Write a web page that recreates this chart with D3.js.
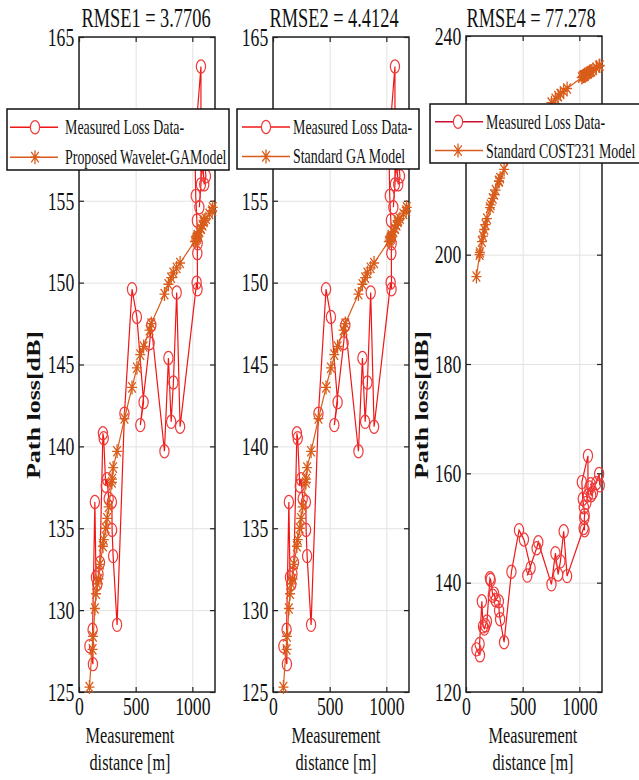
<!DOCTYPE html>
<html>
<head>
<meta charset="utf-8">
<script src="https://cdn.jsdelivr.net/npm/d3@7"></script>
<style>
  body { margin: 0; background: #fff; }
  svg { display: block; }
</style>
</head>
<body>
<div id="chart"></div>
<script>
// measured distance [m] in recorded order
const distance = [92, 123, 120, 140, 150, 162, 172, 185, 211, 218, 236, 248, 262, 290, 292, 301, 336,
  401, 468, 511, 570, 541, 623, 638, 754, 789, 813, 833, 862, 892,
  1038, 1046, 1044, 1047, 1040, 1030, 1022, 1076, 1076, 1062, 1090, 1105, 1120, 1100, 1150, 1175, 1180];

const measuredLoss = [127.8, 126.7, 128.8, 136.6, 132.0, 131.6, 132.2, 132.9, 140.8, 140.5, 137.6, 138.0, 136.8, 136.6, 134.9, 133.3, 129.1,
  142.0, 149.6, 147.9, 142.7, 141.3, 146.3, 147.4, 139.7, 145.4, 141.5, 143.9, 149.4, 141.2,
  150.0, 149.6, 151.8, 152.4, 153.8, 155.3, 158.4, 163.2, 156.0, 154.6, 157.4, 156.0, 156.5, 158.0, 158.2, 159.9, 157.8];

const waveletGA = [125.3, 128.4, 127.6, 130.1, 131.0, 131.6, 131.9, 132.8, 133.9, 134.3, 135.0, 135.6, 136.3, 137.8, 138.0, 138.7, 139.7,
  141.7, 143.6, 144.8, 146.1, 145.6, 147.1, 147.5, 149.3, 149.9, 150.3, 150.6, 150.9, 151.2,
  152.7, 152.8, 152.8, 152.9, 152.7, 152.6, 152.5, 153.3, 153.3, 153.1, 153.5, 153.8, 153.9, 153.7, 154.2, 154.4, 154.6];

const standardGA = [125.3, 128.4, 127.6, 130.1, 131.0, 131.6, 131.9, 132.8, 133.9, 134.3, 135.0, 135.6, 136.3, 137.8, 138.0, 138.7, 139.7,
  141.7, 143.6, 144.8, 146.1, 145.6, 147.1, 147.5, 149.3, 149.9, 150.3, 150.6, 150.9, 151.2,
  152.7, 152.8, 152.8, 152.9, 152.7, 152.6, 152.5, 153.3, 153.3, 153.1, 153.5, 153.8, 153.9, 153.7, 154.2, 154.4, 154.6];

const cost231 = [196.0, 200.4, 200.0, 202.4, 203.4, 204.6, 205.5, 206.6, 208.6, 209.1, 210.3, 211.0, 211.8, 213.4, 213.5, 214.0, 215.6,
  218.3, 220.6, 221.9, 223.6, 222.8, 225.0, 225.3, 227.8, 228.5, 229.0, 229.4, 229.9, 230.4,
  232.7, 232.8, 232.8, 232.8, 232.7, 232.6, 232.4, 233.2, 233.2, 233.0, 233.4, 233.6, 233.8, 233.5, 234.2, 234.5, 234.6];

const titles = ["RMSE1 = 3.7706", "RMSE2 = 4.4124", "RMSE4 = 77.278"];
const measuredName = "Measured Loss Data-";
const modelNames = ["Proposed Wavelet-GAModel", "Standard GA Model", "Standard COST231 Model"];
const xTicks = [0, 500, 1000];
const yTicksGA = [125, 130, 135, 140, 145, 150, 155, 160, 165];
const yTicksCost = [120, 140, 160, 180, 200, 220, 240];

const W = 639, H = 780;
const squeeze = 0.68;   // the figure is squashed sideways
const serif = "'Liberation Serif', 'Times New Roman', serif";
const red = "#f01616", orange = "#d95c1a";

const panels = [
  { left: 79, right: 215, top: 37, bottom: 692, yDomain: [125, 165], yTicks: yTicksGA, model: waveletGA,
    titleX: 146, xLabelX: 130, yLabelX: 33, legend: { x: 7, y: 109, w: 222, h: 61, line: 3, mark: 28, text: 58 } },
  { left: 273, right: 409, top: 37, bottom: 692, yDomain: [125, 165], yTicks: yTicksGA, model: standardGA,
    titleX: 334, xLabelX: 336, yLabelX: null, legend: { x: 237, y: 109, w: 182, h: 60, line: 5, mark: 29, text: 56 } },
  { left: 466, right: 602, top: 36, bottom: 692, yDomain: [120, 240], yTicks: yTicksCost, model: cost231,
    titleX: 531, xLabelX: 533, yLabelX: 421, legend: { x: 430, y: 104, w: 220, h: 59, line: 5, mark: 28, text: 56 } }
];

const svg = d3.select("#chart").append("svg")
  .attr("width", W)
  .attr("height", H)
  .style("background", "#fff");

function label(g, x, y, str, size, anchor, weight) {
  return g.append("text")
    .attr("transform", "translate(" + x + "," + y + ") scale(" + squeeze + ",1)")
    .attr("text-anchor", anchor || "middle")
    .style("font-family", serif)
    .style("font-size", size + "px")
    .style("font-weight", weight || "normal")
    .style("fill", "#111")
    .text(str);
}

function asterisk(cx, cy, s) {
  const a = 5 * s, b = 7 * s, c = 3.8 * s, e = 5.2 * s;
  return "M" + (cx - a) + "," + cy + "L" + (cx + a) + "," + cy +
    "M" + cx + "," + (cy - b) + "L" + cx + "," + (cy + b) +
    "M" + (cx - c) + "," + (cy - e) + "L" + (cx + c) + "," + (cy + e) +
    "M" + (cx - c) + "," + (cy + e) + "L" + (cx + c) + "," + (cy - e);
}

panels.forEach(function(p, i) {
  const g = svg.append("g");
  const x = d3.scaleLinear().domain([0, 1200]).range([p.left, p.right]);
  const y = d3.scaleLinear().domain(p.yDomain).range([p.bottom, p.top]);
  const pw = p.right - p.left, ph = p.bottom - p.top;
  const L = p.legend;

  // grid
  g.append("g")
    .attr("transform", "translate(0," + p.bottom + ")")
    .call(d3.axisBottom(x).tickValues(xTicks).tickSize(-ph).tickFormat(""))
    .call(a => a.select(".domain").remove())
    .call(a => a.selectAll("line").attr("stroke", "#e2e2e2"));
  g.append("g")
    .attr("transform", "translate(" + p.left + ",0)")
    .call(d3.axisLeft(y).tickValues(p.yTicks).tickSize(-pw).tickFormat(""))
    .call(a => a.select(".domain").remove())
    .call(a => a.selectAll("line").attr("stroke", "#e2e2e2"));

  // tick marks on all four sides, pointing in
  [[d3.axisBottom(x).tickValues(xTicks), "translate(0," + p.bottom + ")"],
   [d3.axisTop(x).tickValues(xTicks), "translate(0," + p.top + ")"],
   [d3.axisLeft(y).tickValues(p.yTicks), "translate(" + p.left + ",0)"],
   [d3.axisRight(y).tickValues(p.yTicks), "translate(" + p.right + ",0)"]].forEach(function(ax) {
    g.append("g")
      .attr("transform", ax[1])
      .call(ax[0].tickSizeInner(-5).tickSizeOuter(0).tickFormat(""))
      .call(a => a.select(".domain").remove())
      .call(a => a.selectAll("line").attr("stroke", "#222").attr("stroke-width", 1.2));
  });

  // tick labels (the one sitting under the legend is hidden, as in the figure)
  const shownY = p.yTicks.filter(v => y(v) < L.y - 4 || y(v) > L.y + L.h + 4);
  g.append("g")
    .attr("transform", "translate(0," + p.bottom + ")")
    .call(d3.axisBottom(x).tickValues(xTicks).tickSize(0).tickPadding(5).tickFormat(d3.format("d")))
    .call(a => a.select(".domain").remove())
    .call(a => a.selectAll("text")
      .attr("transform", "scale(" + squeeze + ",1)")
      .style("font-family", serif).style("font-size", "26px").style("fill", "#111"));
  g.append("g")
    .attr("transform", "translate(" + p.left + ",0)")
    .call(d3.axisLeft(y).tickValues(shownY).tickSize(0).tickPadding(7).tickFormat(d3.format("d")))
    .call(a => a.select(".domain").remove())
    .call(a => a.selectAll("text")
      .attr("transform", "scale(" + squeeze + ",1)")
      .style("font-family", serif).style("font-size", "26px").style("fill", "#111"));

  // box
  g.append("rect")
    .attr("x", p.left).attr("y", p.top)
    .attr("width", pw).attr("height", ph)
    .attr("fill", "none")
    .attr("stroke", "#222")
    .attr("stroke-width", 1.5);

  const measured = distance.map((d, k) => [d, measuredLoss[k]]);
  const modelPts = distance.map((d, k) => [d, p.model[k]]);
  const line = d3.line().x(d => x(d[0])).y(d => y(d[1]));

  // measured data
  g.append("path")
    .datum(measured)
    .attr("d", line)
    .attr("fill", "none")
    .attr("stroke", red)
    .attr("stroke-width", 1.2);
  g.selectAll(".meas")
    .data(measured)
    .enter().append("ellipse")
    .attr("class", "meas")
    .attr("cx", d => x(d[0]))
    .attr("cy", d => y(d[1]))
    .attr("rx", 4.6)
    .attr("ry", 6.6)
    .attr("fill", "none")
    .attr("stroke", "#f03a3a")
    .attr("stroke-width", 1.2);

  // model
  g.append("path")
    .datum(modelPts)
    .attr("d", line)
    .attr("fill", "none")
    .attr("stroke", orange)
    .attr("stroke-width", 1.2);
  g.selectAll(".mod")
    .data(modelPts)
    .enter().append("path")
    .attr("class", "mod")
    .attr("d", d => asterisk(x(d[0]), y(d[1]), 1))
    .attr("fill", "none")
    .attr("stroke", orange)
    .attr("stroke-width", 1.3);

  // title and axis labels
  label(g, p.titleX, 27, titles[i], 27);
  label(g, p.xLabelX, 743, "Measurement", 24);
  label(g, p.xLabelX, 770, "distance [m]", 24);
  if (p.yLabelX !== null) {
    g.append("text")
      .attr("transform", "translate(" + p.yLabelX + ",405) rotate(-90) scale(1,0.75)")
      .attr("text-anchor", "middle")
      .attr("dy", "0.35em")
      .style("font-family", serif)
      .style("font-size", "26px")
      .style("font-weight", "bold")
      .style("fill", "#111")
      .text("Path loss[dB]");
  }

  // legend
  const lg = g.append("g").attr("transform", "translate(" + L.x + "," + L.y + ")");
  lg.append("rect")
    .attr("width", L.w).attr("height", L.h)
    .attr("fill", "#fff")
    .attr("stroke", "#111")
    .attr("stroke-width", 1.5);
  const rows = [L.h * 0.3, L.h * 0.79];
  lg.append("line")
    .attr("x1", L.line).attr("x2", L.line + 48)
    .attr("y1", rows[0]).attr("y2", rows[0])
    .attr("stroke", i === 2 ? "#c8102e" : red).attr("stroke-width", 1.5);
  lg.append("ellipse")
    .attr("cx", L.mark).attr("cy", rows[0])
    .attr("rx", 4.6).attr("ry", 6.6)
    .attr("fill", "#fff").attr("stroke", "#f03a3a").attr("stroke-width", 1.2);
  lg.append("line")
    .attr("x1", L.line).attr("x2", L.line + 48)
    .attr("y1", rows[1]).attr("y2", rows[1])
    .attr("stroke", orange).attr("stroke-width", 1.5);
  lg.append("path")
    .attr("d", asterisk(L.mark, rows[1], 1))
    .attr("fill", "none").attr("stroke", orange).attr("stroke-width", 1.3);
  label(lg, L.text, rows[0] + 7, measuredName, 20.5, "start");
  label(lg, L.text, rows[1] + 7, modelNames[i], 20.5, "start");
});
</script>
</body>
</html>
